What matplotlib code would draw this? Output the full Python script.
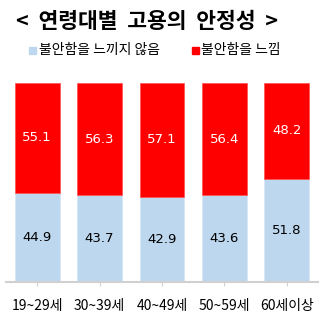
import matplotlib
matplotlib.use("Agg")
from matplotlib import pyplot as plt
import numpy as np

plt.rcParams['font.family'] = ['Noto Sans CJK KR', 'DejaVu Sans']

ages = ['19~29세', '30~39세', '40~49세', '50~59세', '60세이상']
not_anxious = [44.9, 43.7, 42.9, 43.6, 51.8]
anxious = [55.1, 56.3, 57.1, 56.4, 48.2]

blue = '#BDD7EE'
red = '#FF0000'

fig = plt.figure(figsize=(3.24, 3.22), dpi=100)
ax = fig.add_axes([6/324, 40/322, 312/324, 199/322])

x = np.arange(len(ages))
ax.bar(x, not_anxious, width=0.72, color=blue, edgecolor='#d6e6f5', linewidth=0.5)
ax.bar(x, anxious, width=0.72, bottom=not_anxious, color=red, edgecolor='#ff5050', linewidth=0.5)

for i in range(len(ages)):
    ax.text(x[i], not_anxious[i] / 2, '%.1f' % not_anxious[i], ha='center', va='center',
            fontsize=9.5, color='black', family='DejaVu Sans')
    ax.text(x[i], not_anxious[i] + anxious[i] / 2, '%.1f' % anxious[i], ha='center', va='center',
            fontsize=9.5, color='white', family='DejaVu Sans')

ax.set_xlim(-0.5, len(ages) - 0.5)
ax.set_ylim(0, 100)
ax.set_yticks([])
for s in ['top', 'right', 'left']:
    ax.spines[s].set_visible(False)
ax.spines['bottom'].set_color('#D0D0D0')
ax.spines['bottom'].set_linewidth(1.5)
ax.set_xticks(x)
ax.set_xticklabels(ages, fontsize=10)
ax.tick_params(axis='x', length=3, color='#D0D0D0', pad=9)

fig.text(147/324, 1 - 21/322, '<  연령대별  고용의  안정성  >', ha='center', va='center',
         fontsize=15.5, fontweight='bold')

# legend drawn by hand as small squares + text
fig.patches.append(plt.Rectangle((29/324, 1 - 54/322), 7/324, 7/322, color=blue,
                                 transform=fig.transFigure, figure=fig))
fig.text(39/324, 1 - 50/322, '불안함을 느끼지 않음', ha='left', va='center', fontsize=10)
fig.patches.append(plt.Rectangle((192/324, 1 - 54/322), 7/324, 7/322, color=red,
                                 transform=fig.transFigure, figure=fig))
fig.text(201/324, 1 - 50/322, '불안함을 느낌', ha='left', va='center', fontsize=10)

fig.savefig('out.png', dpi=100)
